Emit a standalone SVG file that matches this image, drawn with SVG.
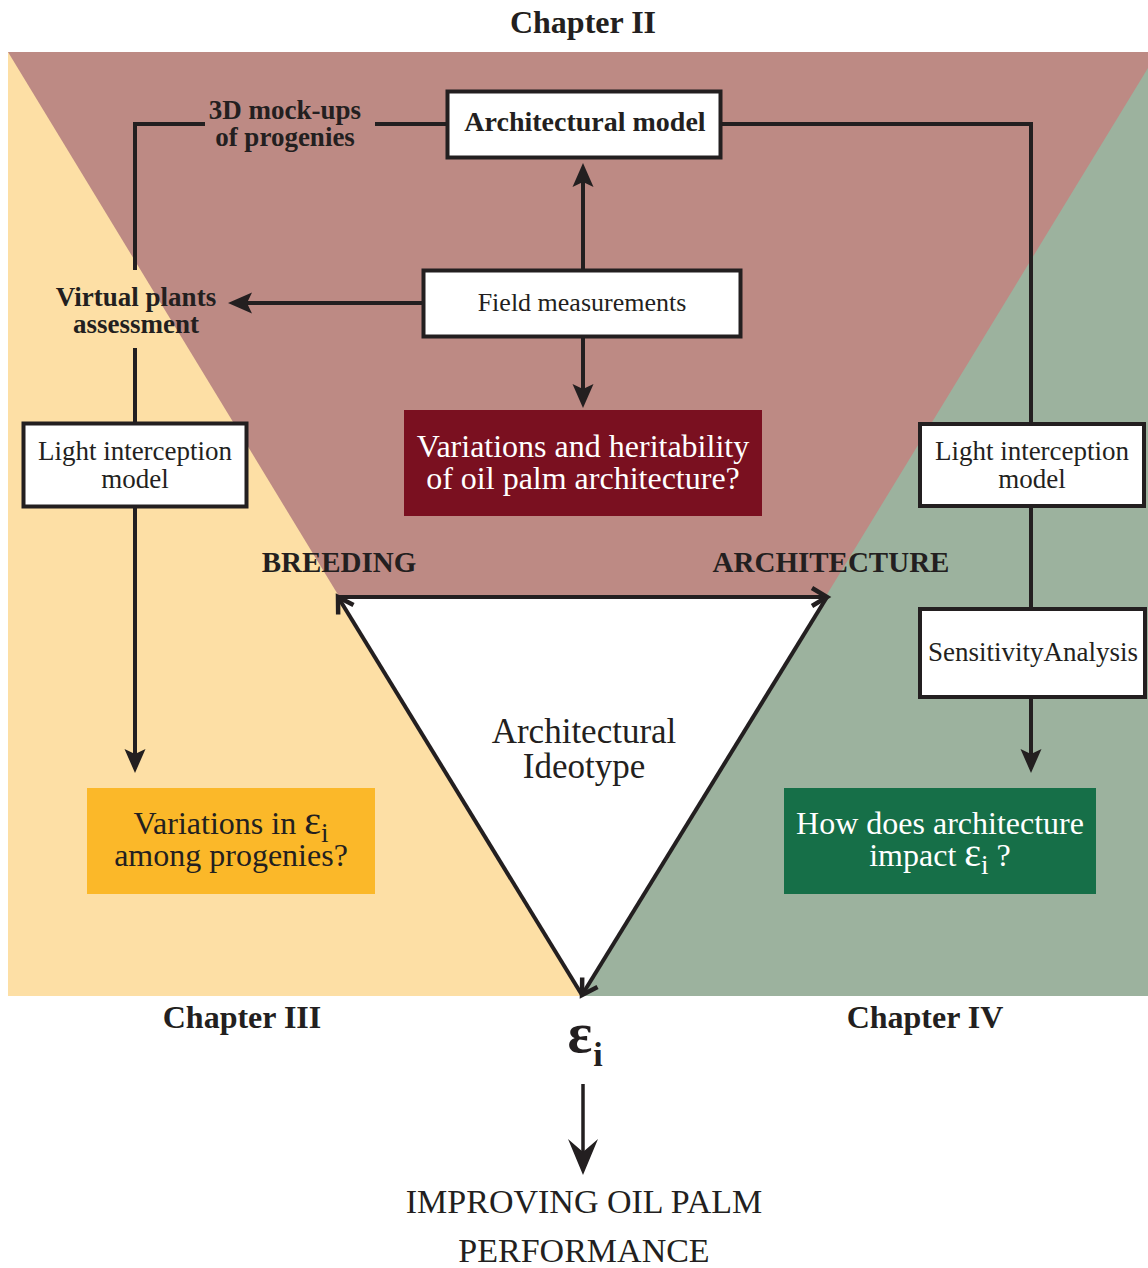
<svg xmlns="http://www.w3.org/2000/svg" width="1148" height="1268" viewBox="0 0 1148 1268">
<style>
text{font-family:"Liberation Serif","Times New Roman",serif;fill:#231F20;text-anchor:middle}
.b{font-weight:bold}
.box{fill:#FFFFFF;stroke:#231F20;stroke-width:4}
.ln{fill:none;stroke:#231F20;stroke-width:4}
.w{fill:#FFFFFF}
</style>
<defs>
<marker id="ah" markerUnits="userSpaceOnUse" viewBox="0 -12 26 24" markerWidth="26" markerHeight="24" refX="5" refY="0" orient="auto" overflow="visible">
<path d="M24,0 L0,-10.5 L5,0 L0,10.5 Z" fill="#231F20"/>
</marker>
<marker id="big" markerUnits="userSpaceOnUse" viewBox="0 -16 38 32" markerWidth="38" markerHeight="32" refX="13" refY="0" orient="auto" overflow="visible">
<path d="M36,0 L0,-15 L13,0 L0,15 Z" fill="#231F20"/>
</marker>
<marker id="chev" markerUnits="userSpaceOnUse" viewBox="-20 -12 24 24" markerWidth="24" markerHeight="24" refX="0" refY="0" orient="auto" overflow="visible">
<path d="M-15,-9 L0,0 L-15,9" fill="none" stroke="#231F20" stroke-width="4.5"/>
</marker>
</defs>

<g id="background">
<rect x="8" y="52" width="1140" height="944" fill="#BD8A84"/>
<polygon points="8,52 582,996 8,996" fill="#FDDFA5"/>
<polygon points="1148,68 1148,996 582,996" fill="#9CB29E"/>
<polygon points="338,597 827,597 582,995" fill="#FFFFFF"/>
</g>

<g id="titles">
<text class="b" x="583" y="33" font-size="32">Chapter II</text>
<text class="b" x="242" y="1028" font-size="32">Chapter III</text>
<text class="b" x="925" y="1028" font-size="32">Chapter IV</text>
<text class="b" x="339" y="572" font-size="29">BREEDING</text>
<text class="b" x="831" y="572" font-size="29">ARCHITECTURE</text>
<text x="584" y="743" font-size="35">Architectural</text>
<text x="584" y="778" font-size="35">Ideotype</text>
</g>

<g id="connectors">
<path class="ln" d="M447,124 H375"/>
<path class="ln" d="M205,124 H135 V270"/>
<path class="ln" d="M721,124 H1031 V424"/>
<path class="ln" d="M135,348 V424"/>
<path class="ln" d="M135,508 V754" marker-end="url(#ah)"/>
<path class="ln" d="M1031,507 V609"/>
<path class="ln" d="M1031,697 V754" marker-end="url(#ah)"/>
<path class="ln" d="M583,270 V182" marker-end="url(#ah)"/>
<path class="ln" d="M423,303 H247" marker-end="url(#ah)"/>
<path class="ln" d="M583,338 V389" marker-end="url(#ah)"/>
<path class="ln" d="M582,995 L338,597" marker-end="url(#chev)"/>
<path class="ln" d="M338,597 H827" marker-end="url(#chev)"/>
<path class="ln" d="M827,597 L582,995" marker-end="url(#chev)"/>
<path fill="none" stroke="#231F20" stroke-width="3.5" d="M583,1084 V1152" marker-end="url(#big)"/>
</g>

<g id="mockups-label">
<text class="b" x="285" y="119" font-size="27">3D mock-ups</text>
<text class="b" x="285" y="146" font-size="27">of progenies</text>
</g>

<g id="virtual-plants">
<text class="b" x="136" y="306" font-size="27">Virtual plants</text>
<text class="b" x="136" y="333" font-size="27">assessment</text>
</g>

<g id="architectural-model">
<rect class="box" x="447.5" y="91.5" width="273" height="66"/>
<text class="b" x="585" y="131" font-size="28">Architectural model</text>
</g>

<g id="field-measurements">
<rect class="box" x="423.5" y="270.5" width="317" height="66"/>
<text x="582" y="311" font-size="26">Field measurements</text>
</g>

<g id="variations-heritability">
<rect x="404" y="410" width="358" height="106" fill="#7A1020"/>
<text class="w" x="583" y="457" font-size="32">Variations and heritability</text>
<text class="w" x="583" y="489" font-size="32">of oil palm architecture?</text>
</g>

<g id="light-left">
<rect class="box" x="23.5" y="423.5" width="223" height="83"/>
<text x="135" y="460" font-size="27">Light interception</text>
<text x="135" y="488" font-size="27">model</text>
</g>

<g id="light-right">
<rect class="box" x="920" y="424" width="224" height="82"/>
<text x="1032" y="460" font-size="27">Light interception</text>
<text x="1032" y="488" font-size="27">model</text>
</g>

<g id="sensitivity">
<rect class="box" x="920" y="609" width="225" height="88"/>
<text x="1033" y="661" font-size="27">SensitivityAnalysis</text>
</g>

<g id="variations-ei">
<rect x="87" y="788" width="288" height="106" fill="#FBB829"/>
<text x="231" y="834" font-size="32">Variations in <tspan font-size="40">ε</tspan><tspan dy="8" font-size="27">i</tspan></text>
<text x="231" y="866" font-size="32">among progenies?</text>
</g>

<g id="architecture-impact">
<rect x="784" y="788" width="312" height="106" fill="#166F48"/>
<text class="w" x="940" y="834" font-size="32">How does architecture</text>
<text class="w" x="940" y="866" font-size="32">impact <tspan font-size="40">ε</tspan><tspan dy="8" font-size="27">i</tspan><tspan dy="-8"> ?</tspan></text>
</g>

<g id="epsilon-i">
<text class="b" x="580" y="1052" font-size="58">ε</text>
<text class="b" x="598" y="1066" font-size="34">i</text>
</g>

<g id="improving">
<text x="584" y="1213" font-size="34">IMPROVING OIL PALM</text>
<text x="584" y="1262" font-size="34">PERFORMANCE</text>
</g>
</svg>
